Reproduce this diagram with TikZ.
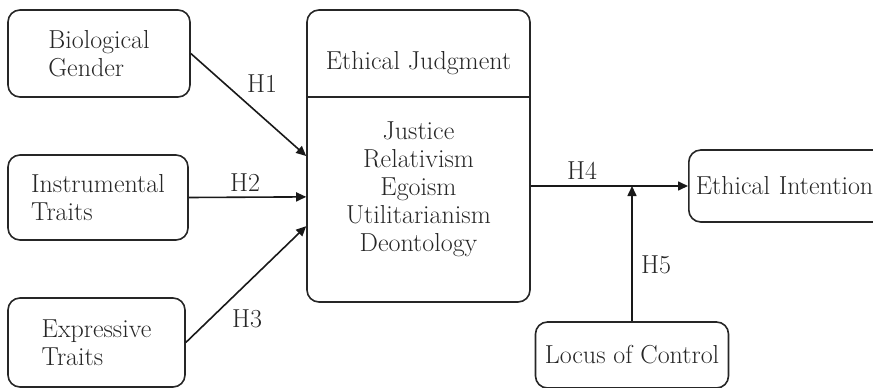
\documentclass[tikz,border=0pt]{standalone}
\usepackage{tikz}
\usetikzlibrary{arrows.meta,positioning,calc}

\begin{document}
\begin{tikzpicture}[
    >={Triangle[length=10pt,width=9pt]},
    x=1pt, y=-1pt,
    every node/.style={font=\fontsize{26}{28}\selectfont,text=black!85},
    cbox/.style={draw=black!85,line width=1.6pt,rounded corners=12pt,inner sep=0pt},
    hyp/.style={->,line width=1.6pt,black!90},
    hlab/.style={inner sep=1pt},
  ]
  \useasboundingbox (0,0) rectangle (873,388);

  % --- antecedents (left column) ---
  \node[cbox,minimum width=182,minimum height=87,align=left] (bio)   at (99,53.5)  {Biological\\Gender};
  \node[cbox,minimum width=180,minimum height=85,align=left] (instr) at (98,197.5) {Instrumental\\Traits};
  \node[cbox,minimum width=177,minimum height=89,align=left] (expr)  at (96.5,342.5) {Expressive\\Traits};

  % --- ethical judgment block ---
  \node[cbox,minimum width=223,minimum height=292] (judg) at (418.5,156) {};
  \node (jtitle) at (418.5,63) {Ethical Judgment};
  \coordinate (jdiv) at (418.5,97);
  \draw[line width=1.6pt,black!85] (judg.west |- jdiv) -- (judg.east |- jdiv);
  \node[align=center] (jlist) at (418.5,189) {Justice\\Relativism\\Egoism\\Utilitarianism\\Deontology};

  % --- outcome and moderator ---
  \node[cbox,minimum width=205,minimum height=72,anchor=west,inner xsep=7pt,text width=191,align=left]
       (intent) at (688,186) {Ethical Intention};
  \node[cbox,minimum width=193,minimum height=66] (locus) at (632,355) {Locus of Control};

  % --- hypothesised paths ---
  \draw[hyp] (bio.east)   -- (judg.west);
  \draw[hyp] (instr.east) -- (judg.200);
  \draw[hyp] (expr.east)  -- (judg.212);
  \draw[hyp] (judg.east |- intent.west) -- (intent.west);
  \coordinate (mod) at (locus.north |- intent.west);
  \draw[hyp] (locus.north) -- (mod);

  % --- path labels ---
  \node[hlab] (h1) at (262,84)  {H1};
  \node[hlab] (h2) at (245,183) {H2};
  \node[hlab] (h3) at (247,319) {H3};
  \node[hlab] (h4) at (582,171) {H4};
  \node[hlab] (h5) at (656,265) {H5};

\end{tikzpicture}
\end{document}
